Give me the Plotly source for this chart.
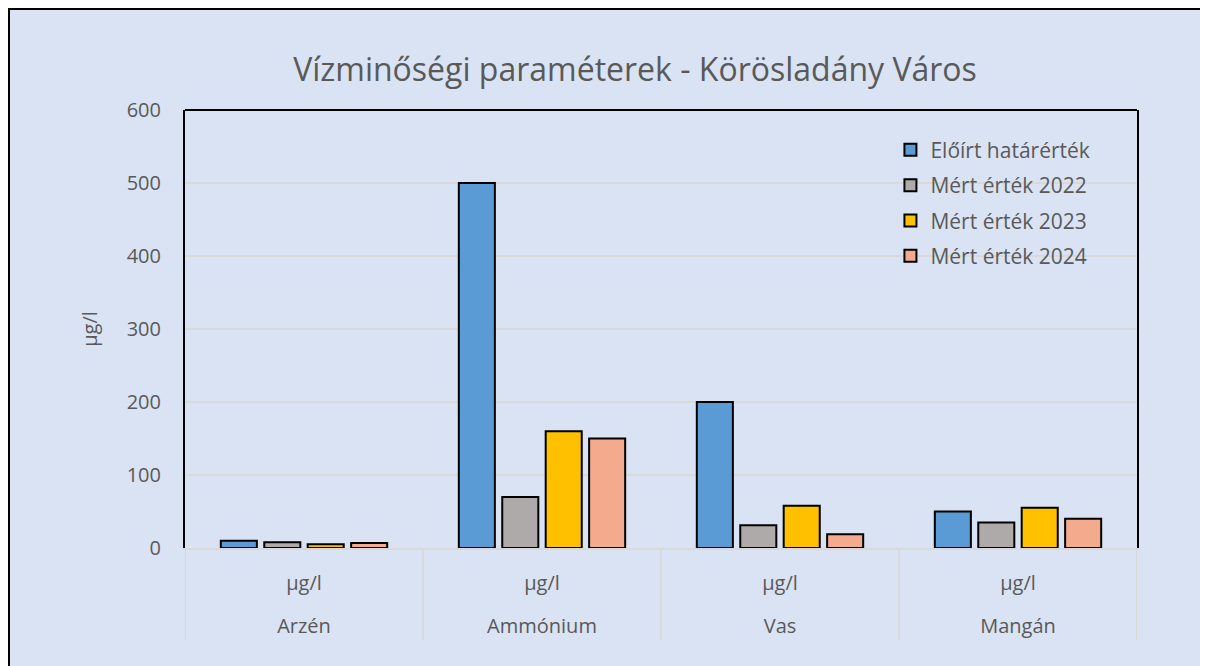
import plotly.graph_objects as go

categories = ["Arzén", "Ammónium", "Vas", "Mangán"]
units = ["µg/l", "µg/l", "µg/l", "µg/l"]
series_names = ["Előírt határérték", "Mért érték 2022", "Mért érték 2023", "Mért érték 2024"]
limit_values = [10, 500, 200, 50]
measured_2022 = [8, 70, 31, 35]
measured_2023 = [5, 160, 58, 55]
measured_2024 = [7, 150, 19, 40]
colors = ["#5B9BD5", "#AEAAAA", "#FFC000", "#F4AA8C"]
y_ticks = [0, 100, 200, 300, 400, 500, 600]

FONT = "Open Sans"
GREY = "#595959"
W, H = 1200, 658
L, R, T, B = 177, 71, 102, 118
PW, PH = W - L - R, H - T - B

fig = go.Figure()
for i, (name, vals, col) in enumerate(zip(series_names, [limit_values, measured_2022, measured_2023, measured_2024], colors)):
    fig.add_trace(go.Bar(
        x=categories, y=vals, name=name, legendgroup=f"g{i}",
        marker=dict(color=col, line=dict(color="black", width=2)),
    ))

dividers = [dict(type="line", xref="x", yref="paper", x0=k - 0.5, x1=k - 0.5, y0=0, y1=-92 / PH,
                 line=dict(color="#D9D9D9", width=2)) for k in range(len(categories) + 1)]

fig.update_layout(
    width=W, height=H,
    paper_bgcolor="white",
    plot_bgcolor="#E2EFDA",
    margin=dict(l=L, r=R, t=T, b=B, autoexpand=False),
    barmode="group", bargap=0.27, bargroupgap=0.17,
    title=dict(text="Vízminőségi paraméterek - Körösladány Város", x=627 / W, xanchor="center", xref="container",
               y=1 - 62 / H, yanchor="middle", yref="container",
               font=dict(family=FONT, size=32, color=GREY)),
    font=dict(family=FONT, color=GREY),
    legend=dict(x=0.741, y=0.955, xanchor="left", yanchor="top", bgcolor="rgba(0,0,0,0)",
                font=dict(family=FONT, size=21, color=GREY), tracegroupgap=5, itemwidth=30),
    showlegend=True,
    yaxis=dict(range=[0, 600], tickvals=y_ticks, showgrid=True, gridcolor="#D9D9D9", gridwidth=1.5,
               showline=True, linecolor="black", linewidth=2, mirror=True,
               ticks="", tickfont=dict(family=FONT, size=20, color=GREY),
               ticklabelstandoff=18,
               title=dict(text="µg/l", font=dict(family=FONT, size=20, color=GREY), standoff=24),
               zeroline=False),
    xaxis=dict(type="category", categoryarray=categories, range=[-0.5, len(categories) - 0.5],
               showline=True, linecolor="#D9D9D9", linewidth=2,
               tickvals=categories, ticktext=units, ticklabelstandoff=16,
               tickfont=dict(family=FONT, size=20, color=GREY), ticks="", showgrid=False),
    xaxis2=dict(type="category", categoryarray=categories, range=[-0.5, len(categories) - 0.5],
                overlaying="x", side="bottom", anchor="y", matches="x",
                tickvals=categories, ticktext=categories, ticklabelstandoff=64,
                tickfont=dict(family=FONT, size=20, color=GREY), ticks="", showgrid=False, showline=False),
    shapes=[
        dict(type="rect", xref="paper", yref="paper", layer="below",
             x0=(1 - L) / PW, x1=1 + (R + 20) / PW, y0=-(B + 20) / PH, y1=1 + (T - 1) / PH,
             line=dict(color="black", width=2), fillcolor="#DAE3F3"),
        dict(type="line", xref="paper", yref="paper", x0=0, x1=1, y0=1, y1=1,
             line=dict(color="black", width=2)),
    ] + dividers,
)

# an invisible trace so that the second axis is drawn
fig.add_trace(go.Bar(x=categories, y=[None] * len(categories), xaxis="x2", showlegend=False, hoverinfo="skip"))

fig.write_html("out.html")
